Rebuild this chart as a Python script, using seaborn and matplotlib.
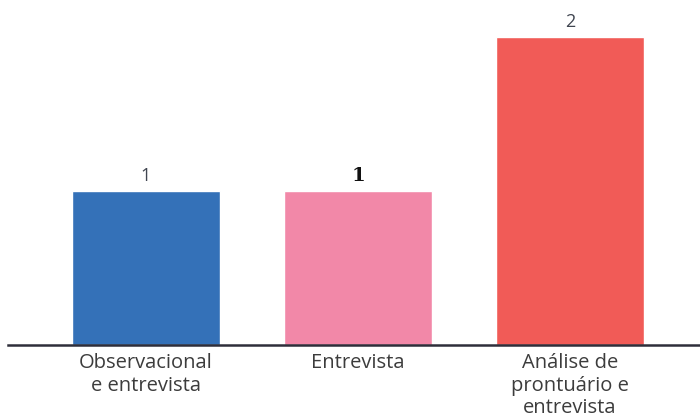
import matplotlib
matplotlib.use("Agg")
import matplotlib.pyplot as plt
import seaborn as sns
import pandas as pd

categories = ["Observacional\ne entrevista", "Entrevista", "Análise de\nprontuário e\nentrevista"]
values = [1, 1, 2]
value_labels = ["1", "1", "2"]
colors = ["#3471B8", "#F288A8", "#F15B57"]

sns.set_theme(style="white")
plt.rcParams['font.family'] = ['Open Sans', 'DejaVu Sans']

df = pd.DataFrame({"cat": categories, "val": values})

fig = plt.figure(figsize=(7, 4.2), dpi=100)
ax = fig.add_axes([8/700, 75/420, 692/700, 345/420])
sns.barplot(data=df, x="cat", y="val", hue="cat", palette=colors, legend=False,
            width=0.7, saturation=1, ax=ax)

ax.set_xlim(-0.651, 2.613)
ax.set_ylim(0, 2.24)
ax.set_xlabel("")
ax.set_ylabel("")
ax.set_yticks([])
for s in ["top", "right", "left"]:
    ax.spines[s].set_visible(False)
ax.spines["bottom"].set_color("#2e2e3a")
ax.spines["bottom"].set_linewidth(1.8)
ax.tick_params(axis="x", length=0, pad=6, labelsize=14.5, labelcolor="#3c3c3c")
for t in ax.get_xticklabels():
    t.set_linespacing(1.16)

for i, (v, lab) in enumerate(zip(values, value_labels)):
    if i == 1:
        ax.text(i, v + 0.04, lab, ha="center", va="bottom", fontsize=14,
                fontweight="bold", family=["DejaVu Serif"], color="#111111")
    else:
        ax.text(i, v + 0.04, lab, ha="center", va="bottom", fontsize=13,
                color="#404550")

fig.savefig("out.png", dpi=100)
